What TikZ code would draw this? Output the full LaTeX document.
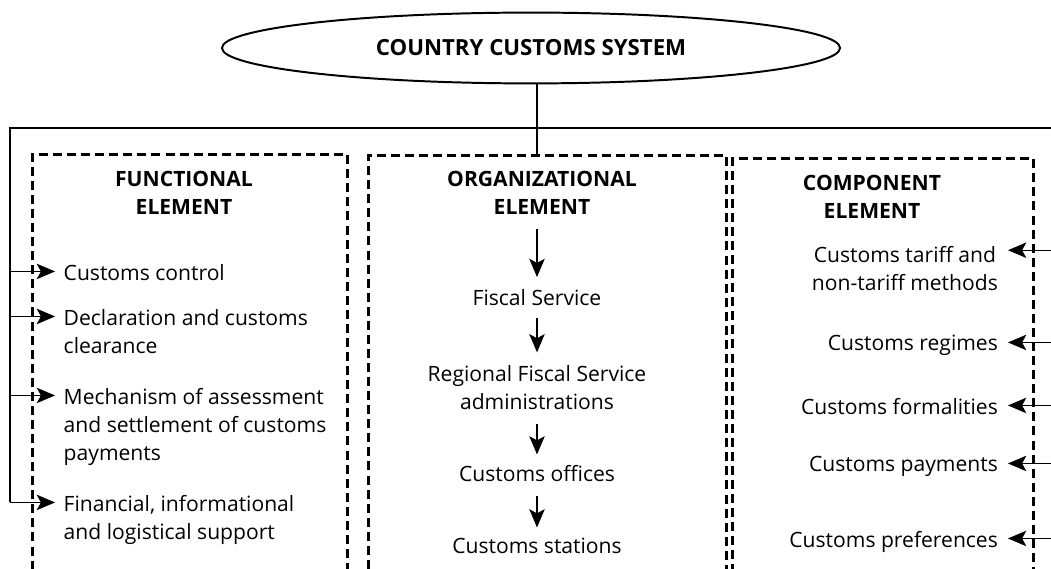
\documentclass[tikz,border=0pt]{standalone}
\usepackage{fontspec}
\setmainfont{Open Sans}
\usetikzlibrary{arrows.meta}
\usetikzlibrary{positioning}
\usetikzlibrary{shapes.geometric}
\newcommand{\itemfont}{\fontsize{15}{19.8}\selectfont}
\tikzset {
  syntax path/.style = {
    draw = black,
    line width = 0.75pt
  },
  % path style with a filled head at the end
  arr/.style = {
    syntax path,
    -{Stealth[length = 13pt, width = 11pt, inset = 3pt]}
  },
  % path style with no arrows
  narr/.style = {
    syntax path
  },
  % thick bracket feeding the outer columns
  bus/.style = {
    draw = black,
    line width = 1.4pt
  }
}
\tikzset {
  % system name
  title/.style = {
    draw = black,
    ellipse,
    line width = 1.4pt,
    minimum width = 15.45cm,
    minimum height = 1.77cm,
    inner sep = 0,
    font = \fontsize{15.8}{20}\selectfont\bfseries
  },
  % dashed frame of one element
  elembox/.style = {
    draw = black,
    rectangle,
    line width = 1.9pt,
    dash pattern = on 6.4pt off 3.6pt,
    minimum height = 11cm,
    anchor = north west,
    inner sep = 0
  },
  % element heading
  head/.style = {
    anchor = north,
    align = center,
    inner sep = 0,
    font = \itemfont\bfseries
  },
  % left column entry
  fitem/.style = {
    anchor = north west,
    align = left,
    inner xsep = 6pt,
    inner ysep = 0,
    font = \itemfont
  },
  % middle column entry
  oitem/.style = {
    anchor = north,
    align = center,
    inner sep = 0,
    font = \itemfont
  },
  % right column entry
  citem/.style = {
    anchor = north east,
    align = right,
    inner xsep = 7pt,
    inner ysep = 0,
    font = \itemfont
  }
}

\begin{document}
\begin{tikzpicture}[x = 0.025cm, y = -0.025cm]
    \useasboundingbox (0, 0) rectangle (1051, 569);
    \clip (0, 0) rectangle (1051, 569);

    \node[title] at (531, 48) (system) {COUNTRY CUSTOMS SYSTEM};

    \node[elembox, minimum width = 7.875cm] at (31, 153) (funcbox) {};
    \node[elembox, minimum width = 8.95cm] at (367, 154) (orgbox) {};
    \node[elembox, minimum width = 7.525cm] at (731, 157) (compbox) {};

    \node[head] at (184, 171) (funchead) {FUNCTIONAL\\ELEMENT};
    \node[head] at (542, 171) (orghead) {ORGANIZATIONAL\\ELEMENT};
    \node[head] at (872, 175) (comphead) {COMPONENT\\ELEMENT};

    \node[fitem] at (55, 264) (control) {Customs control};
    \node[fitem] at (55, 309) (declaration) {Declaration and customs\\clearance};
    \node[fitem] at (55, 388) (mechanism) {Mechanism of assessment\\and settlement of customs\\payments};
    \node[fitem] at (55, 495) (support) {Financial, informational\\and logistical support};

    \node[oitem] at (537, 289) (fiscal) {Fiscal Service};
    \node[oitem] at (537, 365) (regional) {Regional Fiscal Service\\administrations};
    \node[oitem] at (537, 465) (offices) {Customs offices};
    \node[oitem] at (537, 538) (stations) {Customs stations};

    \node[citem, align = center] at (1008, 246) (tariff) {Customs tariff and\\non-tariff methods};
    \node[citem] at (1008, 335) (regimes) {Customs regimes};
    \node[citem] at (1008, 398) (formalities) {Customs formalities};
    \node[citem] at (1008, 456) (payments) {Customs payments};
    \node[citem] at (1008, 531) (preferences) {Customs preferences};

    \coordinate (lbus) at (10, 128);
    \coordinate (rbus) at (1060, 128);

    % bracket and link to the system
    \draw[bus] ([yshift = -5.3pt]lbus |- support.north west)
    -- (lbus)
    -- (rbus)
    -- ([yshift = -5.3pt]rbus |- preferences.north east);
    \draw[narr] (system.south -| fiscal) -- (fiscal |- orgbox.north);

    \draw[arr] ([yshift = -5.3pt]lbus |- control.north west)
    -- ([yshift = -5.3pt]control.north west);
    \draw[arr] ([yshift = -5.3pt]lbus |- declaration.north west)
    -- ([yshift = -5.3pt]declaration.north west);
    \draw[arr] ([yshift = -5.3pt]lbus |- mechanism.north west)
    -- ([yshift = -5.3pt]mechanism.north west);
    \draw[arr] ([yshift = -5.3pt]lbus |- support.north west)
    -- ([yshift = -5.3pt]support.north west);

    \draw[arr, shorten <= 10pt, shorten >= 8.5pt] (fiscal |- orghead.south)
    -- (fiscal.north);
    \draw[arr, shorten <= 9pt, shorten >= 9pt] (fiscal.south)
    -- (regional.north);
    \draw[arr, shorten <= 10pt, shorten >= 7.5pt] (regional.south)
    -- (offices.north);
    \draw[arr, shorten <= 10pt, shorten >= 7.5pt] (offices.south)
    -- (stations.north);

    \draw[arr] ([yshift = -3pt]rbus |- tariff.north east)
    -- ([yshift = -3pt]tariff.north east);
    \draw[arr] ([yshift = -5.3pt]rbus |- regimes.north east)
    -- ([yshift = -5.3pt]regimes.north east);
    \draw[arr] ([yshift = -5.3pt]rbus |- formalities.north east)
    -- ([yshift = -5.3pt]formalities.north east);
    \draw[arr] ([yshift = -5.3pt]rbus |- payments.north east)
    -- ([yshift = -5.3pt]payments.north east);
    \draw[arr] ([yshift = -5.3pt]rbus |- preferences.north east)
    -- ([yshift = -5.3pt]preferences.north east);
  \end{tikzpicture}
\end{document}
